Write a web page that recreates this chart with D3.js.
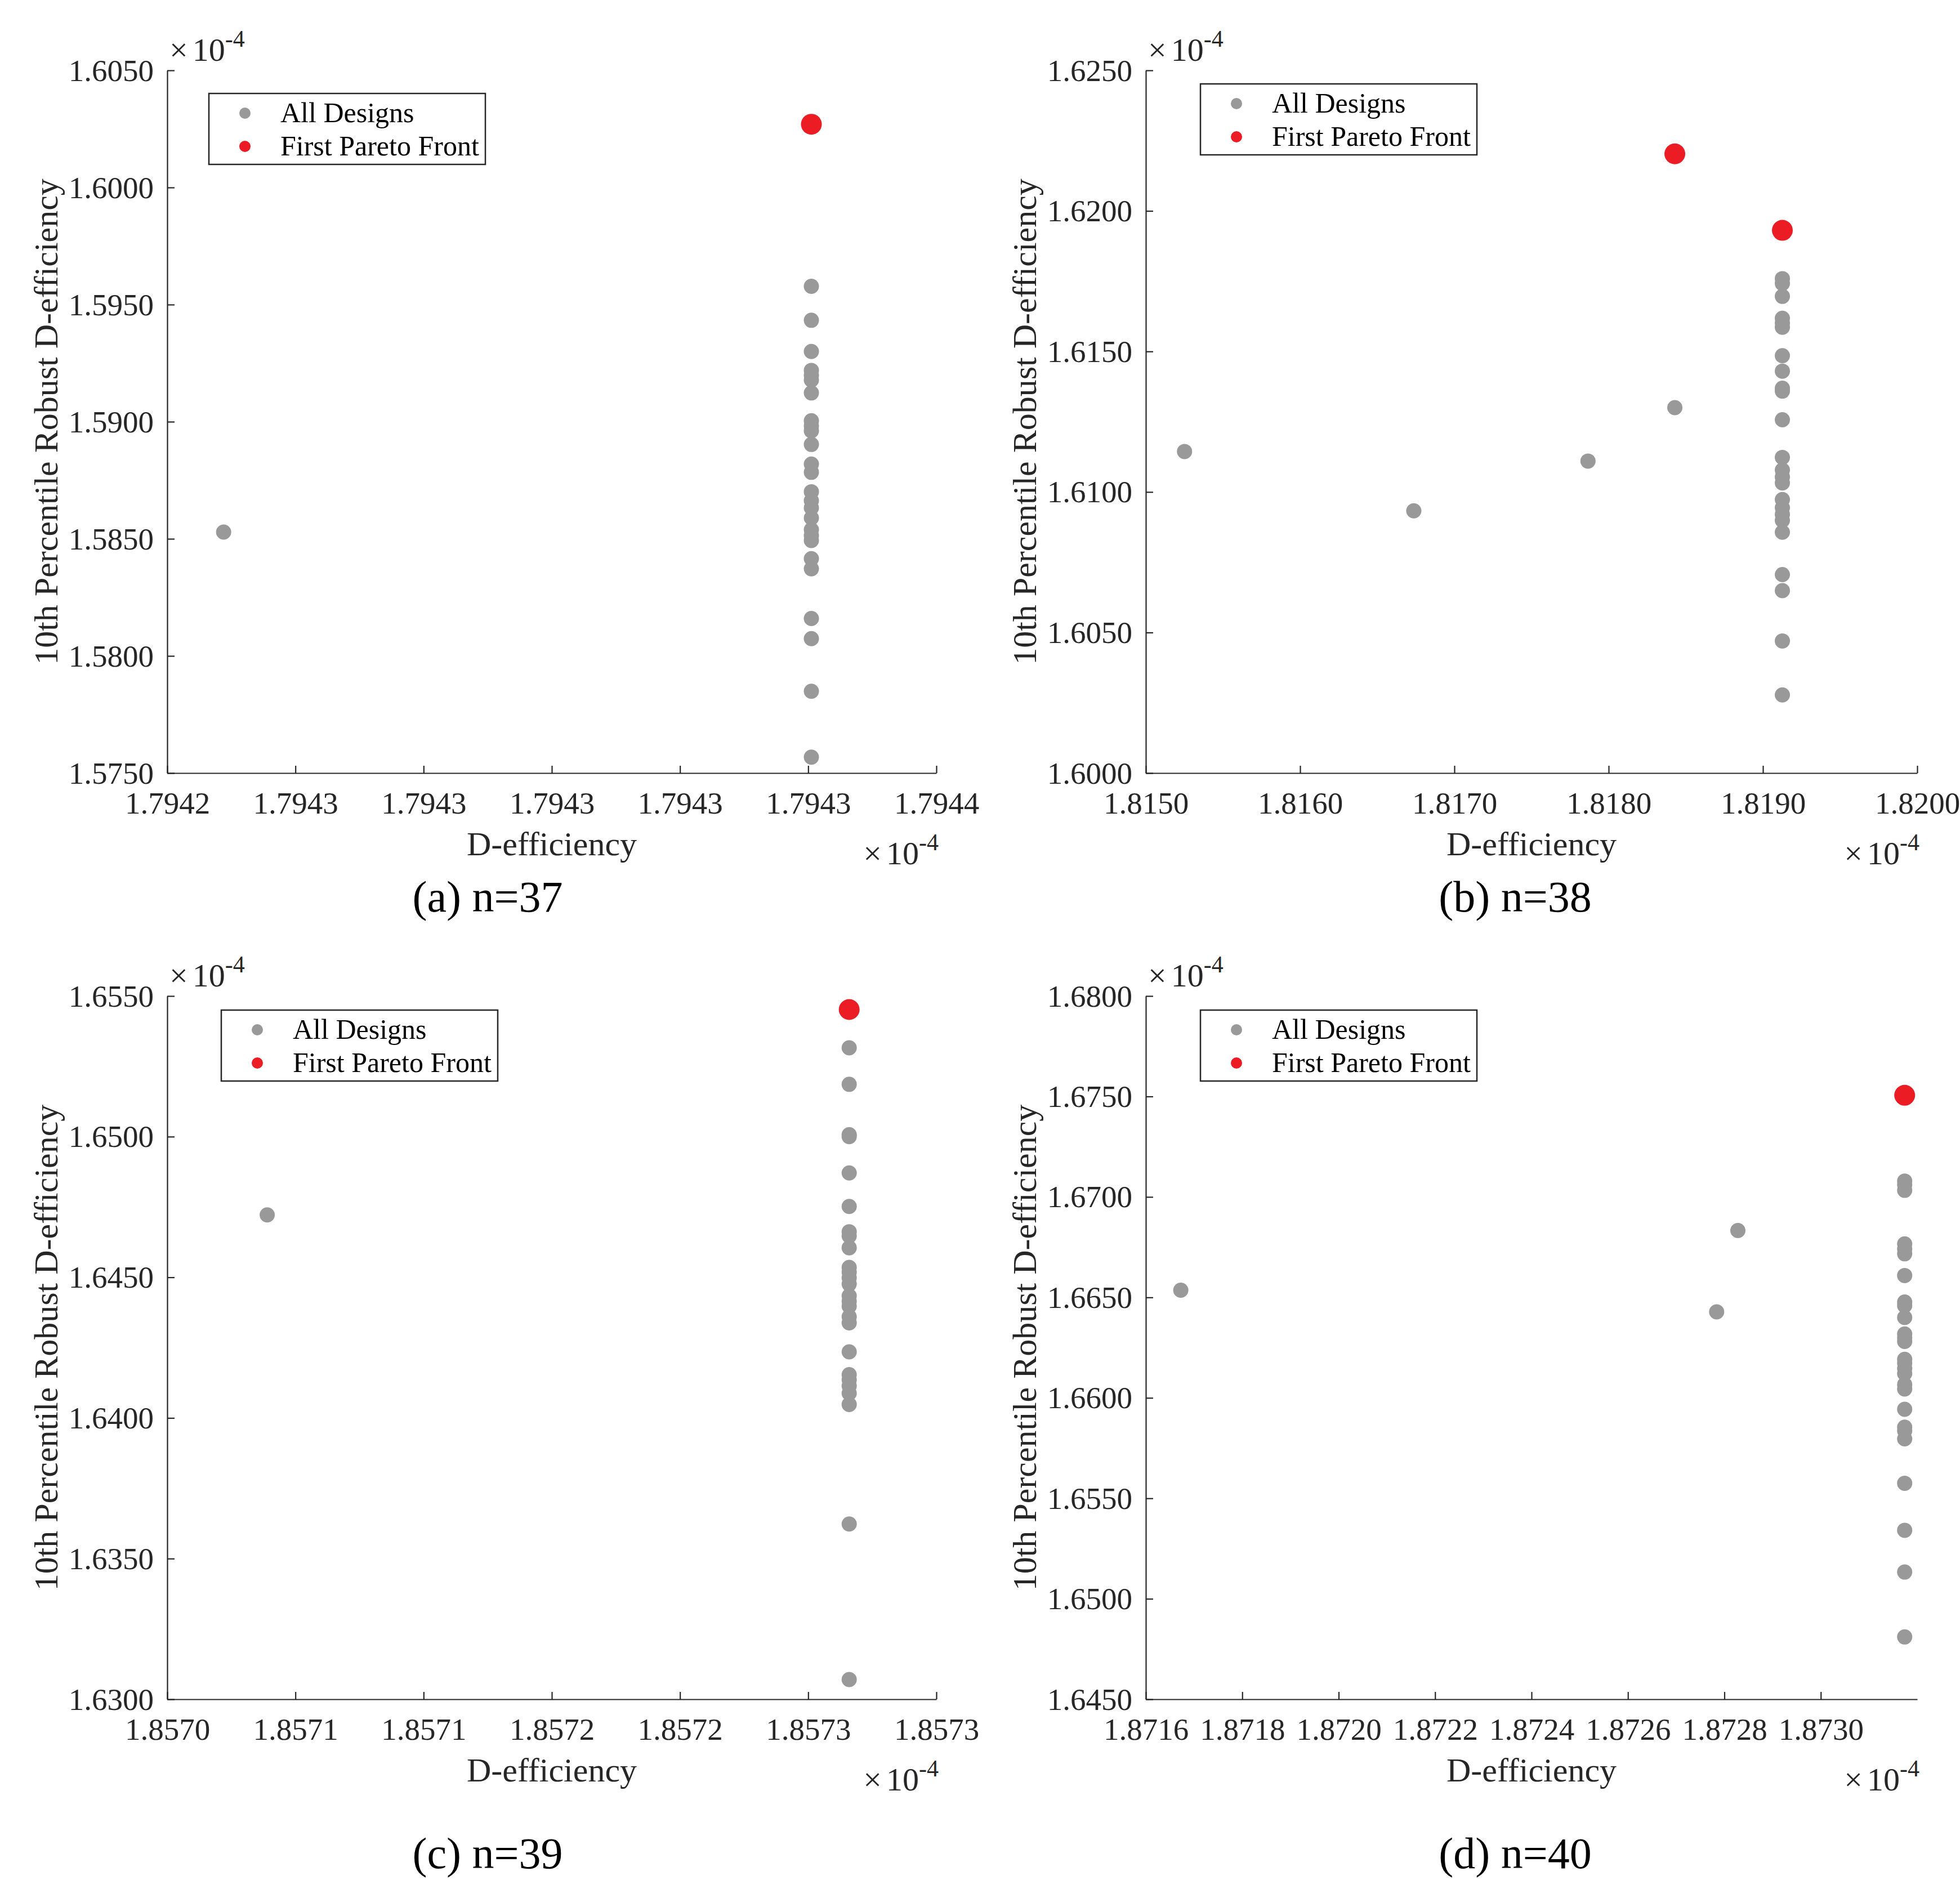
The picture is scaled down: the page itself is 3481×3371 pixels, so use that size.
<!DOCTYPE html>
<html>
<head>
<meta charset="utf-8">
<script src="https://cdn.jsdelivr.net/npm/d3@7"></script>
<style>
  body { margin: 0; background: #fff; }
</style>
</head>
<body>
<svg id="chart"></svg>
<script>
// values are in units of 1e-4 (as on the axes)

// (a) n=37
const allA = [
  [1.7942488, 1.58529],
  [1.7943405, 1.59578], [1.7943405, 1.59433], [1.7943405, 1.59300], [1.7943405, 1.59219],
  [1.7943405, 1.59198], [1.7943405, 1.59178], [1.7943405, 1.59123], [1.7943405, 1.59004],
  [1.7943405, 1.58981], [1.7943405, 1.58961], [1.7943405, 1.58903], [1.7943405, 1.58819],
  [1.7943405, 1.58784], [1.7943405, 1.58701], [1.7943405, 1.58663], [1.7943405, 1.58632],
  [1.7943405, 1.58589], [1.7943405, 1.58539], [1.7943405, 1.58514], [1.7943405, 1.58493],
  [1.7943405, 1.58415], [1.7943405, 1.58372], [1.7943405, 1.58160], [1.7943405, 1.58074],
  [1.7943405, 1.57849], [1.7943405, 1.57568]
];
const paretoA = [[1.7943405, 1.60270]];
const xTicksA = [1.79424, 1.79426, 1.79428, 1.79430, 1.79432, 1.79434, 1.79436];
const xLabelsA = ["1.7942", "1.7943", "1.7943", "1.7943", "1.7943", "1.7943", "1.7944"];
const yTicksA = [1.5750, 1.5800, 1.5850, 1.5900, 1.5950, 1.6000, 1.6050];

// (b) n=38
const allB = [
  [1.815251, 1.61144], [1.816737, 1.60933], [1.817866, 1.61110], [1.818429, 1.61300],
  [1.819126, 1.61759], [1.819126, 1.61742], [1.819126, 1.61696], [1.819126, 1.61618],
  [1.819126, 1.61601], [1.819126, 1.61586], [1.819126, 1.61485], [1.819126, 1.61430],
  [1.819126, 1.61369], [1.819126, 1.61359], [1.819126, 1.61257], [1.819126, 1.61123],
  [1.819126, 1.61078], [1.819126, 1.61053], [1.819126, 1.61032], [1.819126, 1.60973],
  [1.819126, 1.60944], [1.819126, 1.60920], [1.819126, 1.60899], [1.819126, 1.60857],
  [1.819126, 1.60706], [1.819126, 1.60649], [1.819126, 1.60470], [1.819126, 1.60278]
];
const paretoB = [[1.818429, 1.62203], [1.819126, 1.61931]];
const xTicksB = [1.8150, 1.8160, 1.8170, 1.8180, 1.8190, 1.8200];
const xLabelsB = ["1.8150", "1.8160", "1.8170", "1.8180", "1.8190", "1.8200"];
const yTicksB = [1.6000, 1.6050, 1.6100, 1.6150, 1.6200, 1.6250];

// (c) n=39
const allC = [
  [1.857039, 1.64722],
  [1.857266, 1.65316], [1.857266, 1.65186], [1.857266, 1.65007], [1.857266, 1.65000],
  [1.857266, 1.64871], [1.857266, 1.64752], [1.857266, 1.64662], [1.857266, 1.64647],
  [1.857266, 1.64605], [1.857266, 1.64535], [1.857266, 1.64518], [1.857266, 1.64498],
  [1.857266, 1.64476], [1.857266, 1.64434], [1.857266, 1.64415], [1.857266, 1.64397],
  [1.857266, 1.64360], [1.857266, 1.64338], [1.857266, 1.64235], [1.857266, 1.64154],
  [1.857266, 1.64136], [1.857266, 1.64114], [1.857266, 1.64088], [1.857266, 1.64048],
  [1.857266, 1.63623], [1.857266, 1.63070]
];
const paretoC = [[1.857266, 1.65452]];
const xTicksC = [1.85700, 1.85705, 1.85710, 1.85715, 1.85720, 1.85725, 1.85730];
const xLabelsC = ["1.8570", "1.8571", "1.8571", "1.8572", "1.8572", "1.8573", "1.8573"];
const yTicksC = [1.6300, 1.6350, 1.6400, 1.6450, 1.6500, 1.6550];

// (d) n=40
const allD = [
  [1.8716725, 1.66536], [1.872828, 1.66833], [1.872784, 1.66428],
  [1.873174, 1.67079], [1.873174, 1.67061], [1.873174, 1.67033], [1.873174, 1.66766],
  [1.873174, 1.66741], [1.873174, 1.66717], [1.873174, 1.66609], [1.873174, 1.66477],
  [1.873174, 1.66459], [1.873174, 1.66400], [1.873174, 1.66318], [1.873174, 1.66299],
  [1.873174, 1.66281], [1.873174, 1.66192], [1.873174, 1.66173], [1.873174, 1.66146],
  [1.873174, 1.66121], [1.873174, 1.66066], [1.873174, 1.66044], [1.873174, 1.65943],
  [1.873174, 1.65854], [1.873174, 1.65836], [1.873174, 1.65796], [1.873174, 1.65575],
  [1.873174, 1.65341], [1.873174, 1.65133], [1.873174, 1.64810]
];
const paretoD = [[1.873174, 1.67506]];
const xTicksD = [1.8716, 1.8718, 1.8720, 1.8722, 1.8724, 1.8726, 1.8728, 1.8730];
const xLabelsD = ["1.8716", "1.8718", "1.8720", "1.8722", "1.8724", "1.8726", "1.8728", "1.8730"];
const yTicksD = [1.6450, 1.6500, 1.6550, 1.6600, 1.6650, 1.6700, 1.6750, 1.6800];

const captions = ["(a) n=37", "(b) n=38", "(c) n=39", "(d) n=40"];
const legendLabels = ["All Designs", "First Pareto Front"];

const FONT = '"Liberation Serif", "Times New Roman", serif';
const AXIS = "#262626";
const GRAY = "#999999";
const RED = "#ec1c24";

const width = 3481, height = 3371;
const svg = d3.select("#chart")
  .attr("width", width)
  .attr("height", height)
  .attr("viewBox", [0, 0, width, height])
  .style("display", "block")
  .style("background", "#fff");

const panels = [
  {all: allA, pareto: paretoA, xDomain: [1.79424, 1.79436], xTicks: xTicksA, xLabels: xLabelsA, yTicks: yTicksA,
   left: 297, right: 1663, top: 125, bottom: 1373, legendX: 371, legendY: 166, captionX: 866, captionY: 1619},
  {all: allB, pareto: paretoB, xDomain: [1.8150, 1.8200], xTicks: xTicksB, xLabels: xLabelsB, yTicks: yTicksB,
   left: 2035, right: 3405, top: 125, bottom: 1373, legendX: 2132, legendY: 149, captionX: 2691, captionY: 1619},
  {all: allC, pareto: paretoC, xDomain: [1.85700, 1.85730], xTicks: xTicksC, xLabels: xLabelsC, yTicks: yTicksC,
   left: 297, right: 1663, top: 1769, bottom: 3018, legendX: 393, legendY: 1794, captionX: 866, captionY: 3318},
  {all: allD, pareto: paretoD, xDomain: [1.8716, 1.8732], xTicks: xTicksD, xLabels: xLabelsD, yTicks: yTicksD,
   left: 2035, right: 3405, top: 1769, bottom: 3018, legendX: 2132, legendY: 1794, captionX: 2691, captionY: 3318}
];

function styleAxis(a) {
  a.attr("font-family", FONT).attr("font-size", 55);
  a.select(".domain").attr("stroke", AXIS).attr("stroke-width", 2.2);
  a.selectAll(".tick line").attr("stroke", AXIS).attr("stroke-width", 2.2);
  a.selectAll(".tick text").attr("fill", AXIS);
}

// x10^-4 multiplier label
function exponent(g, xPos, yPos, anchor) {
  const t = g.append("text")
    .attr("x", xPos).attr("y", yPos)
    .attr("text-anchor", anchor)
    .attr("font-family", FONT)
    .attr("font-size", 58)
    .attr("fill", AXIS);
  t.append("tspan").text("\u00d7");
  t.append("tspan").attr("dx", 8).text("10");
  t.append("tspan").attr("dy", -25).attr("font-size", 42).text("-4");
}

panels.forEach((p, i) => {
  const x = d3.scaleLinear().domain(p.xDomain).range([p.left, p.right]);
  const y = d3.scaleLinear()
    .domain([p.yTicks[0], p.yTicks[p.yTicks.length - 1]])
    .range([p.bottom, p.top]);

  const g = svg.append("g");

  g.append("g")
    .attr("transform", `translate(0,${p.bottom})`)
    .call(d3.axisBottom(x)
      .tickValues(p.xTicks)
      .tickFormat((d, k) => p.xLabels[k])
      .tickSizeInner(-13)
      .tickSizeOuter(0))
    .call(styleAxis)
    .call(a => a.selectAll(".tick text").attr("y", 72).attr("dy", null));

  g.append("g")
    .attr("transform", `translate(${p.left},0)`)
    .call(d3.axisLeft(y)
      .tickValues(p.yTicks)
      .tickFormat(d3.format(".4f"))
      .tickSizeInner(-13)
      .tickSizeOuter(0))
    .call(styleAxis)
    .call(a => a.selectAll(".tick text").attr("x", -24).attr("dy", null).attr("y", 18));

  // points
  g.append("g").selectAll("circle")
    .data(p.all)
    .join("circle")
    .attr("cx", d => x(d[0]))
    .attr("cy", d => y(d[1]))
    .attr("r", 13.5)
    .attr("fill", GRAY);

  g.append("g").selectAll("circle")
    .data(p.pareto)
    .join("circle")
    .attr("cx", d => x(d[0]))
    .attr("cy", d => y(d[1]))
    .attr("r", 18.5)
    .attr("fill", RED);

  // axis titles
  g.append("text")
    .attr("x", (p.left + p.right) / 2)
    .attr("y", p.bottom + 146)
    .attr("text-anchor", "middle")
    .attr("font-family", FONT)
    .attr("font-size", 60)
    .attr("fill", AXIS)
    .text("D-efficiency");

  g.append("text")
    .attr("transform", `translate(${p.left - 195},${(p.top + p.bottom) / 2}) rotate(-90)`)
    .attr("text-anchor", "middle")
    .attr("font-family", FONT)
    .attr("font-size", 60)
    .attr("fill", AXIS)
    .text("10th Percentile Robust D-efficiency");

  exponent(g, p.left + 4, p.top - 17, "start");
  exponent(g, p.right + 4, p.bottom + 162, "end");

  // legend
  const lg = g.append("g").attr("transform", `translate(${p.legendX},${p.legendY})`);
  lg.append("rect")
    .attr("width", 491).attr("height", 126)
    .attr("fill", "#fff")
    .attr("stroke", AXIS)
    .attr("stroke-width", 2.5);
  [GRAY, RED].forEach((c, k) => {
    const cy = 35 + k * 59;
    lg.append("circle").attr("cx", 64).attr("cy", cy).attr("r", 10).attr("fill", c);
    lg.append("text")
      .attr("x", 127).attr("y", cy + 16)
      .attr("font-family", FONT)
      .attr("font-size", 50)
      .attr("fill", "#000")
      .text(legendLabels[k]);
  });

  // caption
  svg.append("text")
    .attr("x", p.captionX)
    .attr("y", p.captionY)
    .attr("text-anchor", "middle")
    .attr("font-family", FONT)
    .attr("font-size", 78)
    .attr("fill", "#000")
    .text(captions[i]);
});
</script>
</body>
</html>
